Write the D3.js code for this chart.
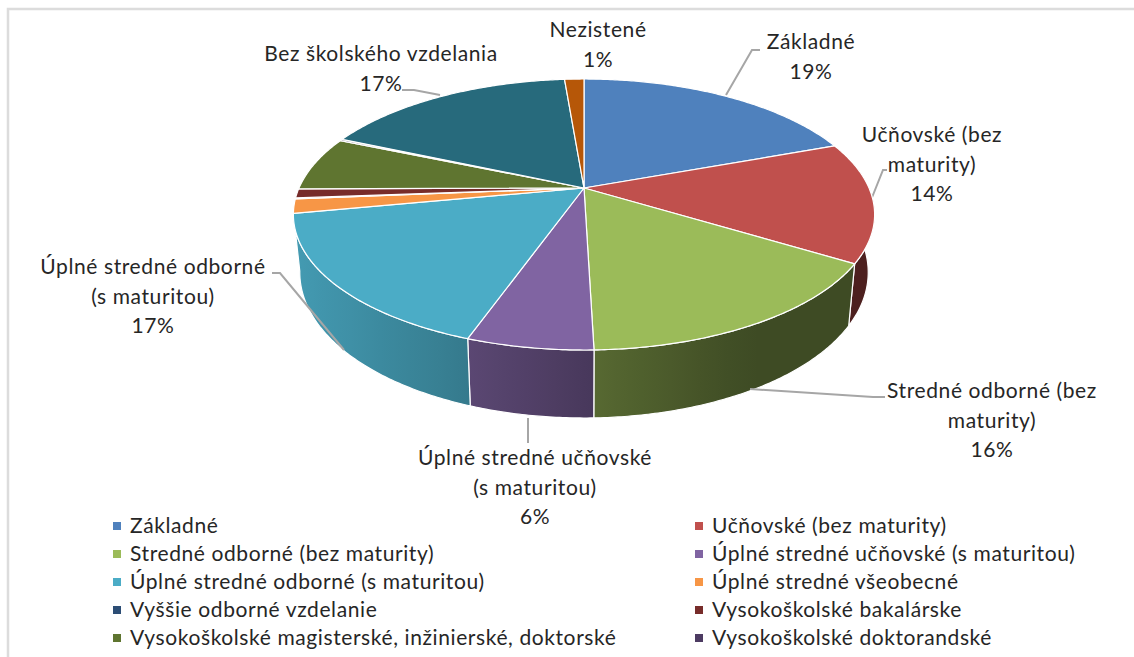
<!DOCTYPE html>
<html lang="sk">
  <head>
    <meta charset="utf-8">
    <title>Vzdelanie</title>
    <style>
      html, body { margin: 0; padding: 0; background: #fff; overflow: hidden; }
      svg { display: block; }
      text { font-family: Lato, sans-serif; fill: #262626; letter-spacing: 0.6px; }
    </style>
  </head>
  <body>
    <svg width="1134" height="657"></svg>
    <script src="https://cdn.jsdelivr.net/npm/d3@7/dist/d3.min.js"></script>
    <script>
      // slices, clockwise from the top of the pie
      const categories = [
        'Základné', 'Učňovské (bez maturity)', 'Stredné odborné (bez maturity)',
        'Úplné stredné učňovské (s maturitou)', 'Úplné stredné odborné (s maturitou)',
        'Úplné stredné všeobecné', 'Vyššie odborné vzdelanie', 'Vysokoškolské bakalárske',
        'Vysokoškolské magisterské, inžinierské, doktorské', 'Vysokoškolské doktorandské',
        'Bez školského vzdelania', 'Nezistené'
      ];
      const values = [19.4, 14.35, 15.8, 5.85, 16.6, 1.7, 0.1, 1.1, 6.5, 0.2, 17.1, 1.3];
      const slice_colors = [
        '#4f81bd', '#c0504d', '#9bbb59', '#8064a2', '#4bacc6', '#f79646',
        '#2c4d75', '#772c2a', '#5f7530', '#4d3b62', '#276a7c', '#b65708'
      ];

      // only the first ten entries fit in the visible legend
      const legend_count = 10;

      // data labels: text lines
      const label_lines = [
        ['Základné', '19%'],
        ['Učňovské (bez', 'maturity)', '14%'],
        ['Stredné odborné (bez', 'maturity)', '16%'],
        ['Úplné stredné učňovské', '(s maturitou)', '6%'],
        ['Úplné stredné odborné', '(s maturitou)', '17%'],
        ['Bez školského vzdelania', '17%'],
        ['Nezistené', '1%']
      ];
      const label_anchor = [[811, 42], [932, 135], [992, 391], [535, 458], [153, 267], [381, 54], [598, 30]];
      const leader_lines = [
        [[760, 50], [752, 50], [726, 95]],
        [[887, 170], [883, 170], [871, 200]],
        [[885, 397], [873, 397], [750, 389]],
        [[528, 443], [528, 418]],
        [[272, 273], [280, 273], [344, 350]],
        [[402, 90], [414, 90], [440, 95]]
      ];

      const svg = d3.select('svg');
      const defs = svg.append('defs');

      const center_x = 584;
      const apex_y = 188;
      const radius = 285;
      const tilt = 130.3;
      const persp = 0.1956;

      // unit disc -> screen, with some perspective towards the viewer
      const project_top = (u, v) => {
        const w = 1 - persp * v;
        return [center_x + radius * u / w, apex_y + tilt * v / w];
      };
      // rim of the bottom face, a bit narrower and deeper at the front
      const project_bottom = (u, v) => {
        const p = project_top(u, v);
        return [center_x + (p[0] - center_x) * 0.978, p[1] + 55.4 + 12.6 * v];
      };

      const rim = (a0, a1, project) => {
        const n = Math.max(2, Math.ceil((a1 - a0) / 0.01));
        return d3.range(n + 1).map(i => {
          const a = a0 + (a1 - a0) * i / n;
          return project(Math.sin(a), -Math.cos(a));
        });
      };

      const pie = d3.pie().sort(null).value(d => d);
      const arcs = pie(values);
      const line = d3.line();
      const color = d3.scaleOrdinal().domain(categories).range(slice_colors);

      // chart frame
      svg.append('path')
        .attr('d', 'M1134,9H8V657')
        .attr('fill', 'none')
        .attr('stroke', '#dcdcdc')
        .attr('stroke-width', 2.5);

      // side wall shading gets darker from left to right
      const shade = d3.scaleLinear()
        .domain([293, 467, 594, 750, 874])
        .range([0.1, 0.29, 0.44, 0.6, 0.6])
        .clamp(true);
      const stops = d3.range(0, 1.001, 0.05);

      arcs.forEach((d, i) => {
        const base = color(categories[i]);
        const grad = defs.append('linearGradient')
          .attr('id', `wall_${i}`)
          .attr('gradientUnits', 'userSpaceOnUse')
          .attr('x1', 293).attr('x2', 874).attr('y1', 0).attr('y2', 0);
        stops.forEach(t => {
          grad.append('stop')
            .attr('offset', t)
            .attr('stop-color', d3.interpolateRgb(base, '#000')(shade(293 + 581 * t)));
        });
      });

      // walls first, only the slices that reach the front of the pie show one
      const front_arcs = arcs.filter(d => Math.max(-Math.cos(d.startAngle), -Math.cos(d.endAngle)) > 0.2);
      svg.append('g').selectAll('path')
        .data(front_arcs).enter()
        .append('path')
        .attr('d', d => {
          const top = rim(d.startAngle, d.endAngle, project_top);
          const bottom = rim(d.startAngle, d.endAngle, project_bottom).reverse();
          return line(top.concat(bottom)) + 'Z';
        })
        .attr('fill', d => `url(#wall_${d.index})`)
        .attr('stroke', '#fff')
        .attr('stroke-width', 1.2);

      // leader lines sit behind the pie edge
      svg.append('g').selectAll('path')
        .data(leader_lines).enter()
        .append('path')
        .attr('d', d => line(d))
        .attr('fill', 'none')
        .attr('stroke', '#a6a6a6')
        .attr('stroke-width', 2);

      svg.append('g').selectAll('path')
        .data(arcs).enter()
        .append('path')
        .attr('d', d => {
          const pts = rim(d.startAngle, d.endAngle, project_top);
          return line([project_top(0, 0)].concat(pts)) + 'Z';
        })
        .attr('fill', (d, i) => color(categories[i]))
        .attr('stroke', '#fff')
        .attr('stroke-width', 1.2)
        .attr('stroke-linejoin', 'round');

      // data labels
      const label_g = svg.append('g').selectAll('text')
        .data(label_lines).enter()
        .append('text')
        .attr('text-anchor', 'middle')
        .attr('font-size', 21);
      label_g.each(function(lines, i) {
        d3.select(this).selectAll('tspan')
          .data(lines).enter()
          .append('tspan')
          .attr('x', label_anchor[i][0])
          .attr('y', (s, j) => label_anchor[i][1] + 7 + j * 29.7)
          .text(s => s);
      });

      // legend, two columns
      const legend_x = d3.scalePoint().domain([0, 1]).range([113, 695]);
      const legend_y = d3.scaleLinear().domain([0, 4]).range([526, 638]);
      const legend = svg.append('g').selectAll('g')
        .data(categories.slice(0, legend_count)).enter()
        .append('g')
        .attr('transform', (d, i) => `translate(${legend_x(i % 2)},${legend_y(Math.floor(i / 2))})`);
      legend.append('rect')
        .attr('x', 0).attr('y', -4)
        .attr('width', 8).attr('height', 8)
        .attr('fill', d => color(d));
      legend.append('text')
        .attr('x', 17)
        .attr('y', 6.5)
        .attr('font-size', 21)
        .text(d => d);
    </script>
  </body>
</html>
